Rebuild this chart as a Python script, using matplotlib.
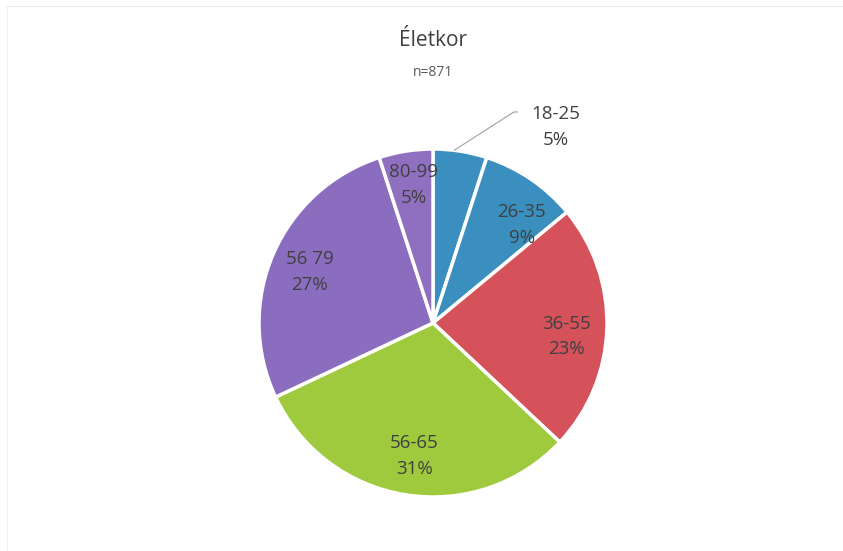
import matplotlib
matplotlib.use("Agg")
import matplotlib.pyplot as plt
import numpy as np

# ---- data ----
categories = ["18-25", "26-35", "36-55", "56-65", "56 79", "80-99"]
shares = [5, 9, 23, 31, 27, 5]
pct_labels = ["5%", "9%", "23%", "31%", "27%", "5%"]
title = "Életkor"
subtitle = "n=871"

# ---- style / layout ----
colors = ["#3a8fbf", "#3a8fbf", "#d5525a", "#9fca3e", "#8b6dbf", "#8f70c0"]
label_color = "#404040"
# (radius, angle offset in degrees) for each label relative to wedge mid-angle
label_layout = [(1.33, -23), (0.76, -8), (0.77, -4), (0.77, 1), (0.765, 1), (0.80, -1)]
font = ["Open Sans", "DejaVu Sans"]

fig = plt.figure(figsize=(8.43, 5.51), dpi=100)
W, H = 843, 551
cx, cy, R = 433, 323, 174
ax = fig.add_axes([(cx - R) / W, (H - cy - R) / H, 2 * R / W, 2 * R / H])

wedges, _ = ax.pie(shares, colors=colors, startangle=90, counterclock=False,
                   radius=1.0,
                   wedgeprops=dict(edgecolor="white", linewidth=2.5))
ax.set_xlim(-1, 1)
ax.set_ylim(-1, 1)
ax.set_aspect("equal")
ax.axis("off")

for w, cat, pct, (r, doff) in zip(wedges, categories, pct_labels, label_layout):
    mid = np.deg2rad((w.theta1 + w.theta2) / 2 + doff)
    x, y = r * np.cos(mid), r * np.sin(mid)
    ax.text(x, y, f"{cat}\n{pct}", ha="center", va="center", fontsize=13.5,
            color=label_color, family=font, linespacing=1.55)
    if r > 1.05:
        m0 = np.deg2rad((w.theta1 + w.theta2) / 2 + 2)
        x0, y0 = np.cos(m0), np.sin(m0)
        ax.plot([x0, x - 0.24, x - 0.22], [y0, y + 0.085, y + 0.085],
                color="#a0a0a0", lw=0.8, clip_on=False)

fig.text(cx / W, 1 - 40 / H, title, ha="center", va="center", fontsize=15,
         color="#404040", family=font)
fig.text(cx / W, 1 - 72 / H, subtitle, ha="center", va="center", fontsize=10,
         color="#595959", family=font)

# faint scanned frame
fig.add_artist(plt.Line2D([7 / W, 1], [1 - 6 / H, 1 - 6 / H], color="#ececec", lw=0.8))
fig.add_artist(plt.Line2D([7 / W, 7 / W], [0, 1 - 6 / H], color="#f0f0f0", lw=0.8))

fig.savefig("out.png", dpi=100, facecolor="white")
